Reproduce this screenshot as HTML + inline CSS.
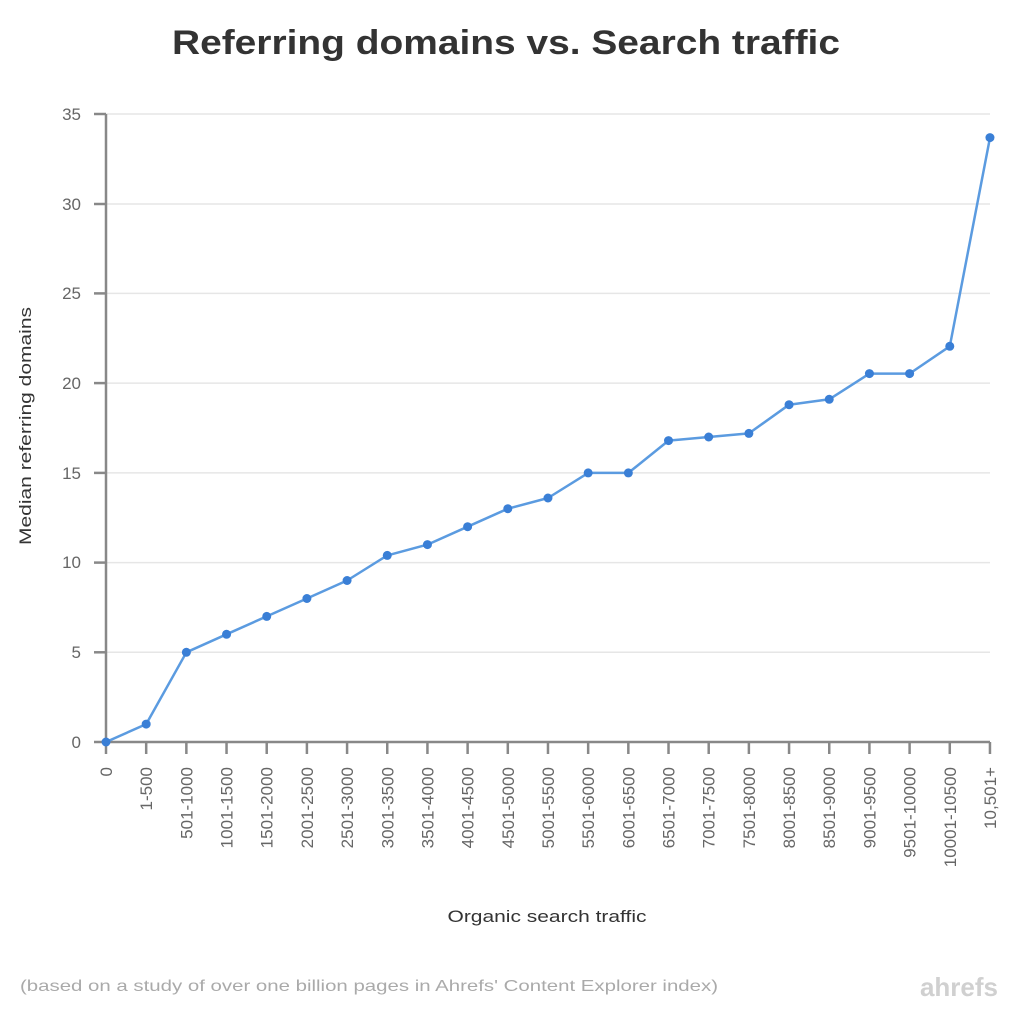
<!DOCTYPE html>
<html><head><meta charset="utf-8"><style>
html,body{margin:0;padding:0;background:#fff;}
svg{display:block;font-family:"Liberation Sans",sans-serif;}
</style></head><body>
<svg width="1022" height="1024" viewBox="0 0 1022 1024">
<text x="506" y="54" text-anchor="middle" font-size="34" font-weight="bold" fill="#333" textLength="668" lengthAdjust="spacingAndGlyphs">Referring domains vs. Search traffic</text>
<g stroke="#e6e6e6" stroke-width="1.5">
<line x1="106" y1="114" x2="990" y2="114"/><line x1="106" y1="204" x2="990" y2="204"/><line x1="106" y1="293.4" x2="990" y2="293.4"/><line x1="106" y1="383.1" x2="990" y2="383.1"/><line x1="106" y1="472.9" x2="990" y2="472.9"/><line x1="106" y1="562.6" x2="990" y2="562.6"/><line x1="106" y1="652.3" x2="990" y2="652.3"/>
</g>
<g stroke="#888" stroke-width="2.5">
<line x1="106" y1="114" x2="106" y2="742"/>
<line x1="94" y1="742" x2="990" y2="742"/>
<line x1="94" y1="114" x2="106" y2="114"/><line x1="94" y1="204" x2="106" y2="204"/><line x1="94" y1="293.4" x2="106" y2="293.4"/><line x1="94" y1="383.1" x2="106" y2="383.1"/><line x1="94" y1="472.9" x2="106" y2="472.9"/><line x1="94" y1="562.6" x2="106" y2="562.6"/><line x1="94" y1="652.3" x2="106" y2="652.3"/>
</g>
<g fill="#666" font-size="17" text-anchor="end">
<text x="81" y="120">35</text><text x="81" y="210">30</text><text x="81" y="299">25</text><text x="81" y="389">20</text><text x="81" y="479">15</text><text x="81" y="568">10</text><text x="81" y="658">5</text><text x="81" y="748">0</text>
</g>
<g stroke="#888" stroke-width="2.5" id="xt"></g>
<g fill="#666" font-size="17" text-anchor="end" id="xl"></g>
<text transform="translate(31,426) rotate(-90)" text-anchor="middle" font-size="17" fill="#333" textLength="238" lengthAdjust="spacingAndGlyphs">Median referring domains</text>
<text x="547" y="922" text-anchor="middle" font-size="17" fill="#333" textLength="199" lengthAdjust="spacingAndGlyphs">Organic search traffic</text>
<polyline fill="none" stroke="#5b9be0" stroke-width="2.5" stroke-linejoin="round" points="106,742 146.2,724.1 186.4,652.3 226.5,634.3 266.7,616.4 306.9,598.5 347.1,580.5 387.3,555.4 427.5,544.6 467.6,526.7 507.8,508.7 548,498 588.2,472.9 628.4,472.9 668.5,440.6 708.7,437 748.9,433.4 789.1,404.7 829.3,399.3 869.5,373.6 909.6,373.6 949.8,346.3 990,137.6"/>
<g fill="#3a7fd6" id="pts"></g>
<text x="20" y="991" font-size="16" fill="#aaa" textLength="698" lengthAdjust="spacingAndGlyphs">(based on a study of over one billion pages in Ahrefs' Content Explorer index)</text>
<text x="998" y="996" text-anchor="end" font-size="26" font-weight="bold" fill="#d0d0d0">ahrefs</text>
<script>
var labs=["0","1-500","501-1000","1001-1500","1501-2000","2001-2500","2501-3000","3001-3500","3501-4000","4001-4500","4501-5000","5001-5500","5501-6000","6001-6500","6501-7000","7001-7500","7501-8000","8001-8500","8501-9000","9001-9500","9501-10000","10001-10500","10,501+"];
var ys=[742,724.1,652.3,634.3,616.4,598.5,580.5,555.4,544.6,526.7,508.7,498,472.9,472.9,440.6,437,433.4,404.7,399.3,373.6,373.6,346.3,137.6];
var ns="http://www.w3.org/2000/svg",xt=document.getElementById("xt"),xl=document.getElementById("xl"),pts=document.getElementById("pts");
for(var i=0;i<23;i++){var x=106+i*40.18;
var l=document.createElementNS(ns,"line");l.setAttribute("x1",x);l.setAttribute("x2",x);l.setAttribute("y1",742);l.setAttribute("y2",754);xt.appendChild(l);
var t=document.createElementNS(ns,"text");t.setAttribute("transform","translate("+(x+6)+",767) rotate(-90)");t.textContent=labs[i];xl.appendChild(t);
var c=document.createElementNS(ns,"circle");c.setAttribute("cx",x);c.setAttribute("cy",ys[i]);c.setAttribute("r",4.5);pts.appendChild(c);}
</script>
</svg>
</body></html>
